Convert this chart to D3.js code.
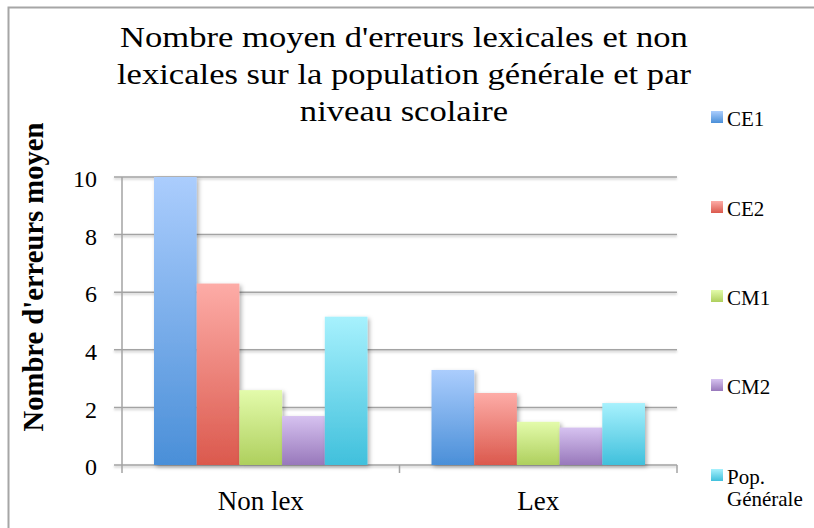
<!DOCTYPE html>
<html><head><meta charset="utf-8">
<script src="https://cdn.jsdelivr.net/npm/d3@7"></script>
<style>body{margin:0;background:#fff}svg{display:block}</style>
</head><body><svg id="c" width="814" height="528"></svg>
<script>
const categories = ["Non lex", "Lex"];
const seriesNames = ["CE1", "CE2", "CM1", "CM2", "Pop. Générale"];
const CE1 = [10.0, 3.3];
const CE2 = [6.3, 2.5];
const CM1 = [2.6, 1.5];
const CM2 = [1.7, 1.3];
const PopGenerale = [5.15, 2.15];
const yTicks = [0, 2, 4, 6, 8, 10];
const titleLines = ["Nombre moyen d'erreurs lexicales et non", "lexicales sur la population générale et par", "niveau scolaire"];
const yTitle = "Nombre d'erreurs moyen";

const FONT = "'Liberation Serif', 'DejaVu Serif', serif";
const seriesValues = [CE1, CE2, CM1, CM2, PopGenerale];
const colors = [["#abcdfd","#4a8fd8"],["#fdaca7","#db594d"],["#e3fbab","#aecf5d"],["#d6c2f0","#9878bb"],["#a7f1fd","#40c0dc"]];

const svg = d3.select("#c");
const defs = svg.append("defs");
colors.forEach((c,i)=>{
  const g = defs.append("linearGradient").attr("id","g"+i).attr("x1",0).attr("y1",0).attr("x2",0).attr("y2",1);
  g.append("stop").attr("offset","0%").attr("stop-color",c[0]);
  g.append("stop").attr("offset","100%").attr("stop-color",c[1]);
});
const f = defs.append("filter").attr("id","sh").attr("x","-20%").attr("y","-20%").attr("width","150%").attr("height","150%");
f.append("feDropShadow").attr("dx",2).attr("dy",2).attr("stdDeviation",2).attr("flood-color","#000").attr("flood-opacity",0.3);
const f2 = defs.append("filter").attr("id","lsh").attr("x","-5%").attr("y","-200%").attr("width","110%").attr("height","500%");
f2.append("feDropShadow").attr("dx",0).attr("dy",1.5).attr("stdDeviation",1).attr("flood-color","#000").attr("flood-opacity",0.25);

// border
svg.append("rect").attr("x",8.5).attr("y",7.5).attr("width",900).attr("height",900)
  .attr("fill","none").attr("stroke","#a6a6a6").attr("stroke-width",2);

const L = 122, R = 677, T = 177, B = 465;
const x = d3.scaleBand().domain(categories).range([L, R]).padding(0);
const xi = d3.scaleBand().domain(seriesNames).range([32, x.bandwidth()-32]).padding(0);
const y = d3.scaleLinear().domain([0, 10]).range([B, T]);

// gridlines
const grid = svg.append("g").attr("filter","url(#lsh)");
grid.selectAll("line").data(yTicks).join("line")
  .attr("x1", L-8).attr("x2", R).attr("y1", d=>y(d)).attr("y2", d=>y(d))
  .attr("stroke","#a3a3a3").attr("stroke-width",1.5);

// y axis
const yAxis = d3.axisLeft(y).tickValues(yTicks).tickSize(0).tickPadding(25).tickFormat(d3.format("d"));
const ya = svg.append("g").attr("transform",`translate(${L},0)`).call(yAxis);
ya.select(".domain").remove();
ya.selectAll("text").attr("font-size",24).attr("dy","0.4em").attr("fill","#000").style("font-family",FONT);
svg.append("line").attr("x1",L).attr("x2",L).attr("y1",T).attr("y2",B+8).attr("stroke","#a3a3a3").attr("stroke-width",1.5);

// bars
const bars = svg.append("g");
seriesValues.forEach((vals, si)=>{
  bars.append("g").attr("filter","url(#sh)").selectAll("rect").data(vals).join("rect")
    .attr("x",(d,i)=>x(categories[i]) + xi(seriesNames[si]))
    .attr("width", xi.bandwidth())
    .attr("y", d=>y(d)).attr("height", d=>y(0)-y(d))
    .attr("fill","url(#g"+si+")");
});

// x axis
const xAxis = d3.axisBottom(x).tickSize(0);
const xa = svg.append("g").attr("transform",`translate(0,${B})`).call(xAxis);
xa.select(".domain").remove();
xa.selectAll("text").attr("font-size",27).attr("y",45).attr("dy","0").attr("fill","#000").style("font-family",FONT);
svg.append("line").attr("x1",L).attr("x2",R).attr("y1",B).attr("y2",B).attr("stroke","#a3a3a3").attr("stroke-width",1.5).attr("filter","url(#lsh)");
svg.selectAll(".xt").data([x.range()[0]+x.bandwidth(), R]).join("line").attr("class","xt")
  .attr("x1",d=>d).attr("x2",d=>d).attr("y1",B).attr("y2",B+8).attr("stroke","#a3a3a3").attr("stroke-width",1.5);

// title
const tg = svg.append("g");
const tt = tg.selectAll("text").data(titleLines).join("text")
  .attr("x",0).attr("y",(d,i)=>47+i*37).attr("text-anchor","middle")
  .attr("font-size",30).style("font-family",FONT).text(d=>d);
const w0 = tt.nodes()[0].getComputedTextLength();
const sx = 568 / w0;
tg.attr("transform",`translate(404,0) scale(${sx},1)`);

// y title
const yt = svg.append("text").attr("transform","translate(43,277) rotate(-90)").attr("text-anchor","middle")
  .attr("font-size",26).attr("font-weight","bold").style("font-family",FONT).text(yTitle);
const yw = yt.node().getComputedTextLength();
yt.attr("font-size", 26 * 309 / yw);

// legend
const legY = [117, 207, 296, 385, 475];
const lg = svg.append("g");
seriesNames.forEach((s,i)=>{
  lg.append("rect").attr("x",711).attr("y",legY[i]-6).attr("width",12).attr("height",12).attr("fill","url(#g"+i+")");
  const parts = s.split(" ");
  const t = lg.append("text").attr("x",727).attr("y",legY[i]+9).attr("font-size",21).style("font-family",FONT);
  if (parts.length>1) {
    t.append("tspan").attr("x",727).text(parts[0]);
    t.append("tspan").attr("x",727).attr("dy",22).text(parts.slice(1).join(" "));
  } else t.text(s);
});
</script></body></html>
